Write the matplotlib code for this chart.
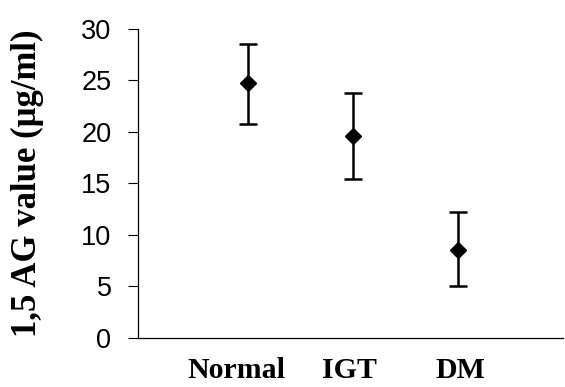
import matplotlib
matplotlib.use("Agg")
import matplotlib.pyplot as plt
from matplotlib.transforms import ScaledTranslation

# group means and error ranges (ug/ml)
groups = ["Normal", "IGT", "DM"]
means = [24.8, 19.6, 8.5]
upper = [28.5, 23.8, 12.2]
lower = [20.8, 15.4, 5.0]

err_low = [m - l for m, l in zip(means, lower)]
err_high = [u - m for u, m in zip(upper, means)]
xpos = [1, 2, 3]

fig = plt.figure(figsize=(5.65, 3.87), dpi=100)
ax = fig.add_axes([0.244, 0.127, 0.752, 0.798])

ax.errorbar(xpos, means, yerr=[err_low, err_high], fmt="D", color="black",
            markersize=8.5, elinewidth=1.8, capsize=6.5, capthick=1.8)

ax.set_xlim(-0.05, 4)
ax.set_ylim(0, 30)
ax.set_yticks(range(0, 31, 5))
ax.set_xticks(xpos)
ax.set_xticklabels(groups, fontfamily="Liberation Serif", fontweight="bold",
                   fontsize=21.5)
ax.tick_params(axis="x", length=0, pad=14)
ax.tick_params(axis="y", direction="out", length=7, width=0.8, pad=12)
for lbl in ax.get_yticklabels():
    lbl.set_fontfamily("Liberation Sans")
    lbl.set_fontsize(19.5)

# the "Normal" label sits a little left of its point in the original
shifts = [-12, -3, 3]
for lbl, dx in zip(ax.get_xticklabels(), shifts):
    lbl.set_transform(lbl.get_transform() +
                      ScaledTranslation(dx / 100, 0, fig.dpi_scale_trans))

ax.set_ylabel("1,5 AG value (\u03bcg/ml)", fontfamily="Liberation Serif",
              fontweight="bold", fontsize=25, labelpad=27)

ax.spines["top"].set_visible(False)
ax.spines["right"].set_visible(False)
ax.spines["left"].set_linewidth(0.9)
ax.spines["bottom"].set_linewidth(0.9)

fig.savefig("out.png", dpi=100)
